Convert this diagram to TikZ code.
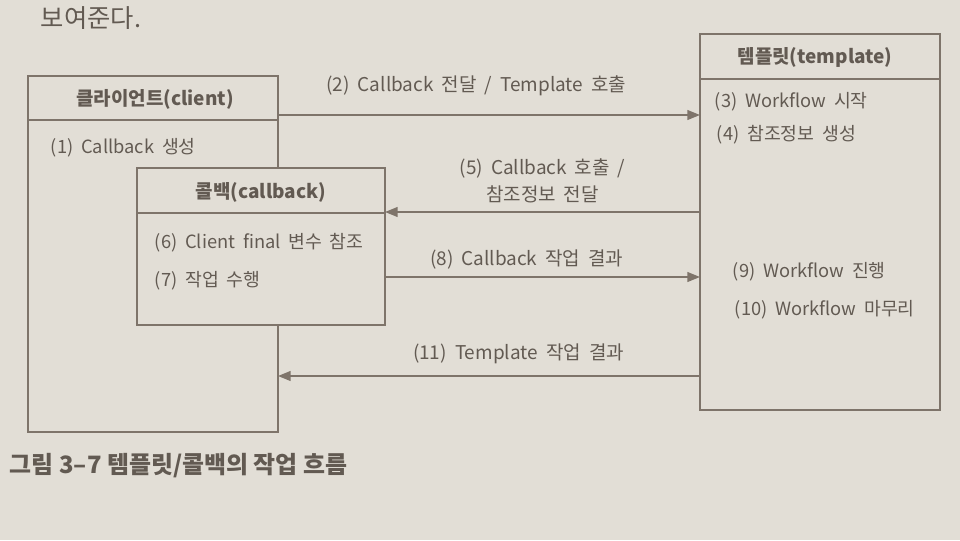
\documentclass[tikz,border=0pt]{standalone}
\usepackage{fontspec}
\setmainfont[WordSpace=1.9]{Noto Sans CJK KR}
\newfontfamily\capfont{Noto Sans CJK KR}
\usetikzlibrary{arrows.meta, positioning, calc}
\definecolor{paper}{RGB}{226,222,214}
\definecolor{ink}{RGB}{98,90,82}
\definecolor{rule}{RGB}{126,116,106}

\begin{document}
\begin{tikzpicture}[
  x=0.025cm, y=-0.025cm,
  >={Triangle[length=9pt,width=7pt]},
  box/.style={draw=rule, fill=paper, line width=1.1pt},
  flow/.style={draw=rule, line width=1.1pt, ->},
  head/.style={font=\fontsize{13.5}{16}\selectfont\bfseries, text=ink},
  item/.style={font=\fontsize{13}{15}\selectfont, text=ink, anchor=west},
  lbl/.style={font=\fontsize{13.5}{15}\selectfont, text=ink}
  ]
  \fill[paper] (0,0) rectangle (960,540);
  \useasboundingbox (0,0) rectangle (960,540);
  \node[anchor=west, text=ink, font=\fontsize{18}{20}\selectfont] (body) at (36,18) {보여준다.};
  % boxes
  \coordinate (cl-nw) at (28,76);
  \coordinate (cl-se) at (278,432);
  \coordinate (cb-nw) at (137,168);
  \coordinate (cb-se) at (385,325);
  \coordinate (tp-nw) at (700,34);
  \coordinate (tp-se) at (940,410);
  \draw[box] (cl-nw) rectangle (cl-se);
  \draw[box] (28,120) -- (278,120);
  \draw[box] (cb-nw) rectangle (cb-se);
  \draw[box] (137,213) -- (385,213);
  \draw[box] (tp-nw) rectangle (tp-se);
  \draw[box] (700,79) -- (940,79);
  \node[head] (cl-head) at (155,99) {클라이언트(client)};
  \node[item] (cl-1) at (46,148) {(1) Callback 생성};
  \node[head] (cb-head) at (261,192) {콜백(callback)};
  \node[item] (cb-6) at (150,243) {(6) Client final 변수 참조};
  \node[item] (cb-7) at (150,281) {(7) 작업 수행};
  \node[head] (tp-head) at (815,57) {템플릿(template)};
  \node[item] (tp-3) at (710,102) {(3) Workflow 시작};
  \node[item] (tp-4) at (712,135) {(4) 참조정보 생성};
  \node[item] (tp-9) at (728,272) {(9) Workflow 진행};
  \node[item] (tp-10) at (730,310) {(10) Workflow 마무리};
  % calls between the boxes
  \coordinate (a2s) at (278,115);
  \coordinate (a2e) at (700,115);
  \coordinate (a5s) at (700,212);
  \coordinate (a5e) at (385,212);
  \coordinate (a8s) at (385,277);
  \coordinate (a8e) at (700,277);
  \coordinate (a11s) at (700,376);
  \coordinate (a11e) at (278,376);
  \draw[flow] (a2s) -- (a2e);
  \node[lbl, above=10pt] (l2) at ($(a2s)!0.47!(a2e)$) {(2) Callback 전달 / Template 호출};
  \draw[flow] (a5s) -- (a5e);
  \node[lbl, align=center, above=3pt] (l5) at ($(a5s)!0.5!(a5e)$) {(5) Callback 호출 /\\[4pt]참조정보 전달};
  \draw[flow] (a8s) -- (a8e);
  \node[lbl, above=2pt] (l8) at ($(a8s)!0.45!(a8e)$) {(8) Callback 작업 결과};
  \draw[flow] (a11s) -- (a11e);
  \node[lbl, above=5pt] (l11) at ($(a11s)!0.43!(a11e)$) {(11) Template 작업 결과};
  \node[anchor=west, text=ink, font=\fontsize{17}{20}\capfont\bfseries] (cap) at (5,466) {그림 3–7 템플릿/콜백의 작업 흐름};
\end{tikzpicture}
\end{document}
